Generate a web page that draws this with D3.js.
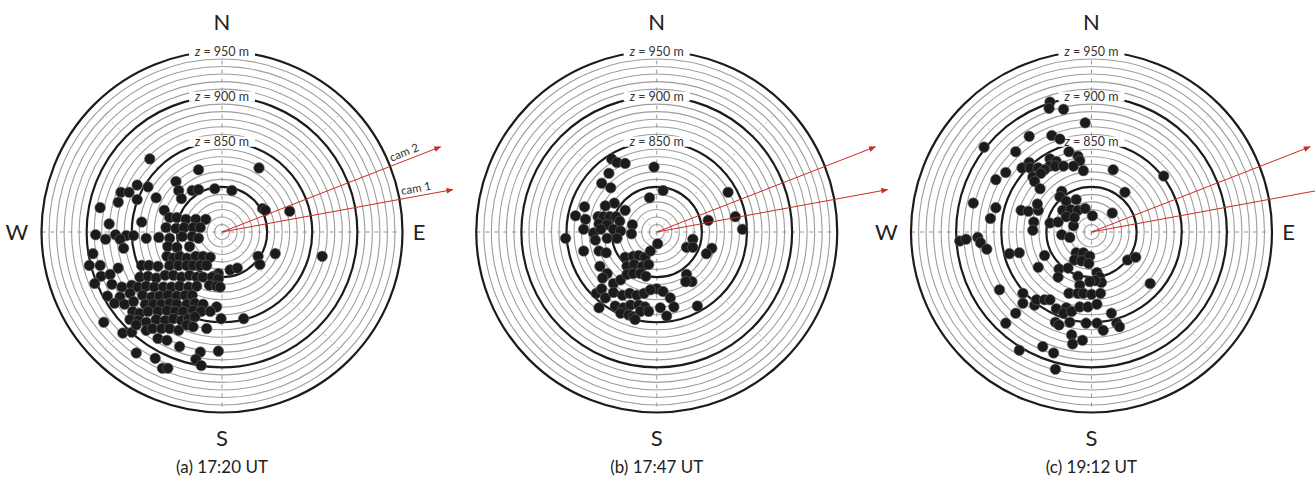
<!DOCTYPE html>
<html><head><meta charset="utf-8">
<script src="https://cdn.jsdelivr.net/npm/d3@7"></script>
<style>
html,body{margin:0;padding:0;background:#fff;}
svg{display:block;font-family:Lato,"Open Sans",sans-serif;}
</style></head><body>
<svg id="chart" width="1315" height="482"></svg>
<script>
// Panels and captions
const panelKeys = ["a", "b", "c"];
const captions = ["(a) 17:20 UT", "(b) 17:47 UT", "(c) 19:12 UT"];

// Radial axis: altitude z (m); rings every 50/6 m, heavy rings every 50 m
const zCentre = 750;
const zOuter = 950;
const majorLevels = [800, 850, 900, 950];
const labelledLevels = [850, 900, 950];
const ringsPerMajor = 6;

// Compass directions shown per panel
const compassByPanel = [["N", "S", "W", "E"], ["N", "S"], ["N", "S", "W", "E"]];

// Camera viewing azimuths (deg from north) and the altitude the arrows reach
const camNames = ["cam 2", "cam 1"];
const camAzimuths = [68.7, 79.6];
const camReach = 1010;

// Source positions: [east, north] offsets in metres of (z - 750)
const pointsA = [[-80,81],[-26,69],[41,71],[-51,56],[-94,52],[-82,50],[-112,44],[-103,44],[-48,46],[-33,46],[-26,47],[-8,48],[11,46],[-94,36],[-73,38],[-45,37],[-115,33],[-135,27],[-64,24],[45,26],[48,24],[75,23],[-58,16],[-50,16],[-40,14],[-29,14],[-18,14],[-125,9],[-89,11],[-62,5],[-51,4],[-42,5],[-32,5],[-24,5],[-140,-3],[-129,-8],[-118,-3],[-106,-4],[-98,-4],[-113,-8],[-84,-7],[-70,-6],[-58,-7],[-44,-5],[-33,-5],[-26,-7],[-109,-18],[-143,-24],[-60,-16],[-50,-17],[-36,-16],[59,-24],[40,-27],[42,-36],[111,-27],[-147,-37],[-135,-37],[-115,-40],[-89,-37],[-81,-37],[-71,-38],[-61,-27],[-54,-29],[-47,-27],[-39,-29],[-29,-27],[-21,-27],[-13,-28],[-58,-37],[-48,-37],[-39,-37],[-32,-37],[-24,-37],[-17,-37],[9,-42],[17,-40],[-4,-46],[-9,-49],[-134,-49],[-124,-47],[-141,-57],[-122,-58],[-111,-61],[-100,-59],[-91,-50],[-82,-49],[-73,-51],[-63,-48],[-54,-48],[-45,-50],[-36,-48],[-28,-50],[-21,-50],[-11,-50],[-4,-52],[-93,-61],[-84,-60],[-75,-61],[-65,-61],[-56,-61],[-47,-60],[-37,-61],[-28,-60],[-14,-59],[-6,-60],[-2,-61],[-127,-71],[-113,-72],[-102,-68],[-88,-70],[-78,-72],[-69,-71],[-60,-70],[-50,-71],[-41,-70],[-33,-70],[-119,-79],[-108,-80],[-98,-77],[-85,-80],[-76,-80],[-67,-80],[-58,-79],[-50,-80],[-39,-80],[-30,-79],[-21,-80],[-6,-83],[-99,-88],[-91,-90],[-82,-88],[-71,-88],[-61,-87],[-52,-88],[-43,-88],[-32,-87],[-23,-88],[-13,-88],[-1,-96],[24,-96],[-131,-100],[-102,-97],[-93,-98],[-84,-100],[-73,-97],[-63,-98],[-54,-96],[-45,-98],[-37,-96],[-30,-94],[-110,-112],[-100,-111],[-95,-103],[-84,-109],[-77,-107],[-67,-107],[-58,-107],[-48,-109],[-39,-103],[-32,-105],[-17,-107],[-71,-118],[-61,-120],[-47,-127],[-24,-133],[-4,-132],[-95,-134],[-74,-140],[-66,-151],[-60,-151],[-29,-141],[-23,-148]];

const pointsB = [[-50,81],[-44,77],[-35,76],[-3,72],[-53,65],[-61,54],[-51,49],[7,46],[79,44],[-8,38],[-47,32],[-57,29],[-80,28],[-35,24],[87,17],[-90,18],[-65,17],[-59,17],[-52,17],[-45,17],[-27,8],[95,3],[57,13],[-79,14],[-81,3],[-64,9],[-55,8],[-41,12],[-101,-7],[-28,-2],[-70,-1],[-62,3],[-48,3],[-40,1],[-68,-9],[-55,-7],[-44,-7],[1,-13],[-81,-21],[-64,-21],[-56,-23],[40,-8],[33,-17],[40,-17],[61,-18],[55,-24],[-35,-28],[-26,-27],[-20,-26],[-13,-28],[-7,-21],[-33,-38],[-25,-36],[-16,-38],[-9,-36],[-63,-38],[-55,-46],[-60,-51],[-48,-57],[-40,-53],[-33,-47],[-26,-46],[-18,-46],[-12,-49],[33,-47],[39,-55],[32,-55],[0,-63],[7,-66],[15,-73],[19,-83],[4,-84],[11,-93],[-67,-68],[-61,-63],[-57,-73],[-48,-67],[-38,-70],[-30,-68],[-22,-70],[-14,-68],[-7,-64],[-64,-84],[-46,-82],[-37,-84],[-29,-81],[-20,-81],[-13,-83],[-40,-90],[-31,-92],[-26,-94],[-18,-88],[-9,-88],[45,-82],[-24,-97]];

const pointsC = [[-46,144],[-47,137],[-31,136],[-7,121],[-69,106],[-44,107],[-35,103],[-119,94],[-84,89],[-25,89],[-15,84],[-13,79],[-46,81],[-39,78],[-46,73],[-69,77],[-77,71],[-68,71],[-59,71],[-52,69],[-40,73],[-31,73],[-20,73],[-9,68],[-95,66],[-106,58],[24,69],[80,62],[-65,61],[-56,65],[-63,56],[-57,48],[37,44],[-33,45],[-35,39],[-28,34],[-17,36],[-131,32],[-106,27],[-112,15],[-78,24],[-70,23],[-59,24],[-60,31],[-32,24],[-23,25],[-15,24],[-7,26],[1,18],[23,21],[-64,11],[-46,10],[-37,11],[-20,7],[-28,17],[-19,16],[-65,2],[-146,-10],[-139,-8],[-126,-6],[-123,-12],[-116,-19],[-33,-3],[-24,-6],[-91,-24],[-80,-23],[-52,-26],[-17,-23],[-9,-23],[-2,-27],[-19,-31],[-11,-32],[-3,-35],[40,-31],[49,-28],[-59,-39],[-36,-41],[-37,-50],[-26,-40],[6,-45],[9,-50],[11,-56],[4,-54],[-15,-49],[-13,-59],[-2,-55],[65,-57],[-102,-64],[-76,-68],[-76,-79],[-63,-81],[-61,-75],[-52,-75],[-46,-75],[-25,-68],[-15,-68],[-9,-68],[0,-69],[10,-68],[-39,-85],[-28,-84],[-31,-90],[-22,-88],[-13,-83],[-4,-83],[6,-80],[-84,-90],[-95,-101],[-40,-100],[-36,-103],[-24,-100],[-6,-101],[6,-101],[13,-109],[22,-90],[28,-101],[31,-105],[-22,-114],[-21,-124],[-10,-120],[-80,-131],[-54,-127],[-42,-134],[-40,-152]];

const panelPoints = [pointsA, pointsB, pointsC];

// Layout
const W = 1315, H = 482;
const cy = 232;
const outerRadius = 180.5;
const xPanel = d3.scalePoint().domain(panelKeys).range([222, 1091.5]);
const rScale = d3.scaleLinear().domain([0, zOuter - zCentre]).range([0, outerRadius]);
const ex = d3.scaleLinear().domain([-(zOuter - zCentre), zOuter - zCentre]).range([-outerRadius, outerRadius]);
const ny = d3.scaleLinear().domain([-(zOuter - zCentre), zOuter - zCentre]).range([outerRadius, -outerRadius]);

const ringLevels = d3.range(1, ringsPerMajor * majorLevels.length + 1)
  .map(i => zCentre + i * 50 / ringsPerMajor);

const svg = d3.select("#chart");

const defs = svg.append("defs");
defs.append("marker")
  .attr("id", "camHead")
  .attr("viewBox", "0 -5 10 10")
  .attr("refX", 9).attr("refY", 0)
  .attr("markerUnits", "userSpaceOnUse")
  .attr("markerWidth", 9).attr("markerHeight", 7)
  .attr("orient", "auto")
  .append("path").attr("d", "M0,-4L10,0L0,4Z").attr("fill", "#cc2b24");

const polar = (azDeg, r) => {
  const a = azDeg * Math.PI / 180;
  return [r * Math.sin(a), -r * Math.cos(a)];
};

panelKeys.forEach((key, i) => {
  const g = svg.append("g").attr("transform", `translate(${xPanel(key)},${cy})`);

  // thin rings
  g.append("g").selectAll("circle")
    .data(ringLevels.filter(z => !majorLevels.some(m => Math.abs(m - z) < 1e-6)))
    .join("circle")
    .attr("r", z => rScale(z - zCentre))
    .attr("fill", "none").attr("stroke", "#9d9d9d").attr("stroke-width", 1.1);

  // radial guides at 45 deg
  g.append("g").selectAll("line")
    .data([45, 135, 225, 315])
    .join("line")
    .attr("x1", 0).attr("y1", 0)
    .attr("x2", d => polar(d, outerRadius)[0])
    .attr("y2", d => polar(d, outerRadius)[1])
    .attr("stroke", "#b5b5b5").attr("stroke-width", 0.8)
    .attr("stroke-dasharray", "3 6");

  // N-S and E-W dashed axes
  g.append("line").attr("x1", -outerRadius).attr("x2", outerRadius).attr("y1", 0).attr("y2", 0)
    .attr("stroke", "#8c8c8c").attr("stroke-width", 0.9).attr("stroke-dasharray", "4 5");
  g.append("line").attr("y1", -outerRadius).attr("y2", outerRadius).attr("x1", 0).attr("x2", 0)
    .attr("stroke", "#8c8c8c").attr("stroke-width", 0.9).attr("stroke-dasharray", "4 5");

  // heavy rings
  g.append("g").selectAll("circle")
    .data(majorLevels)
    .join("circle")
    .attr("r", z => rScale(z - zCentre))
    .attr("fill", "none").attr("stroke", "#1c1c1c").attr("stroke-width", 2.2);

  // ring labels
  const lab = g.append("g").selectAll("g")
    .data(labelledLevels)
    .join("g")
    .attr("transform", z => `translate(0,${-rScale(z - zCentre)})`);
  lab.append("rect")
    .attr("x", -33).attr("y", -5).attr("width", 66).attr("height", 10)
    .attr("fill", "#fff");
  const lt = lab.append("text")
    .attr("text-anchor", "middle").attr("dy", "0.36em")
    .attr("font-size", 12.5).attr("fill", "#333");
  lt.append("tspan").attr("font-style", "italic").text("z");
  lt.append("tspan").text(z => ` = ${z} m`);

  // sources
  g.append("g").selectAll("circle")
    .data(panelPoints[i])
    .join("circle")
    .attr("cx", d => ex(d[0]))
    .attr("cy", d => ny(d[1]))
    .attr("r", 5.3)
    .attr("fill", "#1b1b1b").attr("stroke", "#6a6a6a").attr("stroke-width", 0.6);

  // camera directions
  g.append("g").selectAll("line")
    .data(camAzimuths)
    .join("line")
    .attr("x1", 0).attr("y1", 0)
    .attr("x2", az => polar(az, rScale(camReach - zCentre))[0])
    .attr("y2", az => polar(az, rScale(camReach - zCentre))[1])
    .attr("stroke", "#cc2b24").attr("stroke-width", 1)
    .attr("marker-end", "url(#camHead)");

  if (i === 0) {
    g.append("g").selectAll("text")
      .data(camAzimuths)
      .join("text")
      .attr("transform", az => {
        const [x, y] = polar(az, rScale(220));
        return `translate(${x},${y}) rotate(${az - 90}) translate(0,-4)`;
      })
      .attr("text-anchor", "middle")
      .attr("font-size", 11.5).attr("fill", "#333")
      .text((az, j) => camNames[j]);
  }

  // compass letters
  const compassPos = {N: [0, -202], S: [0, 214], W: [-205, 8], E: [197, 8]};
  g.append("g").selectAll("text")
    .data(compassByPanel[i])
    .join("text")
    .attr("x", d => compassPos[d][0]).attr("y", d => compassPos[d][1])
    .attr("text-anchor", "middle")
    .attr("font-size", 22).attr("fill", "#222")
    .text(d => d);

  // caption
  g.append("text")
    .attr("x", 0).attr("y", 241)
    .attr("text-anchor", "middle")
    .attr("font-size", 17).attr("fill", "#222")
    .text(captions[i]);
});
</script>
</body></html>
